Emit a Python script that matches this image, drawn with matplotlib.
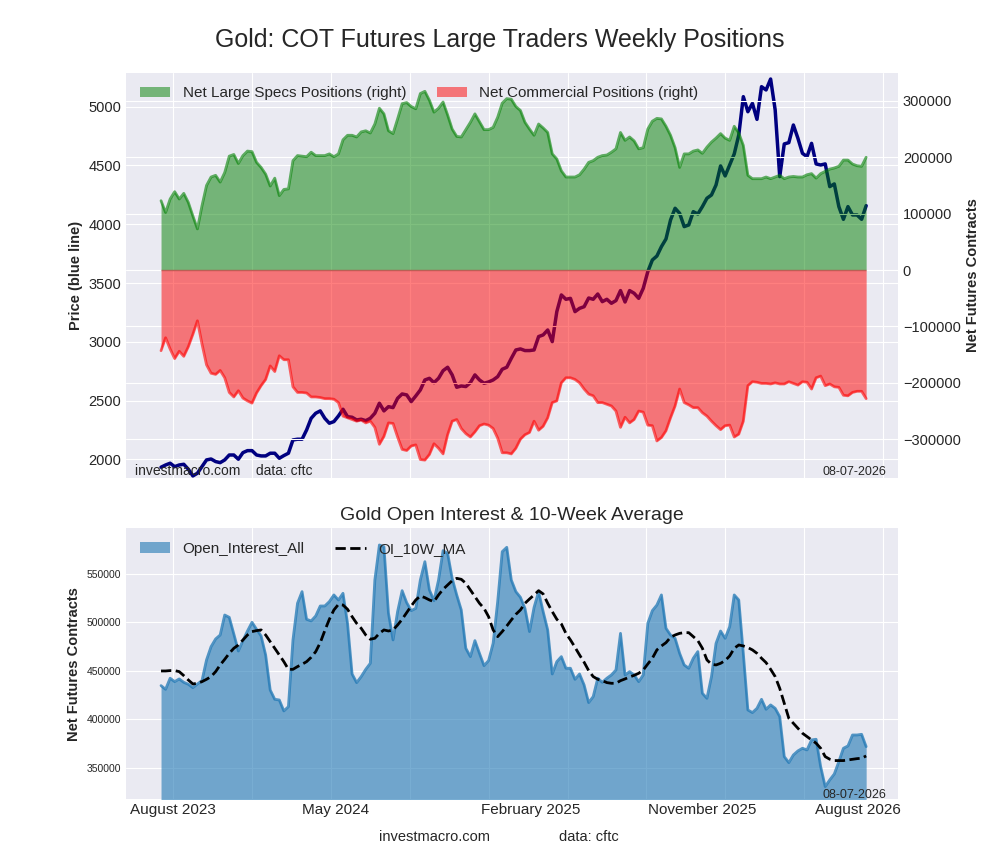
import numpy as np
import matplotlib as mpl
mpl.use("Agg")
import matplotlib.pyplot as plt

plt.style.use('seaborn-v0_8-darkgrid')
plt.rcParams['font.family'] = ['Liberation Sans', 'DejaVu Sans']

#weekly data, net positions in thousands of contracts
net_specs = [123,102,126,139,126,136,120,96,73,114,
    150,165,168,156,173,202,205,189,203,211,
    210,191,182,170,149,163,132,143,144,194,
    203,202,201,209,203,203,203,206,201,206,
    231,239,239,236,245,247,243,259,287,277,
    247,242,268,295,297,290,286,313,317,301,
    280,287,298,275,250,237,236,249,262,277,
    263,249,249,253,271,296,304,303,290,283,
    262,250,239,259,252,244,206,197,176,165,
    165,165,169,179,191,194,200,203,204,209,
    215,244,230,236,229,215,217,250,264,269,
    268,255,239,217,182,206,206,211,213,207,
    218,227,234,242,234,230,255,243,221,168,
    162,162,162,165,162,165,168,162,165,166,
    165,165,169,171,163,171,175,179,181,184,
    195,195,188,185,184,200]

net_comm = [-143,-120,-140,-157,-144,-153,-136,-114,-90,-131,
    -168,-183,-185,-178,-191,-217,-225,-214,-227,-232,
    -236,-218,-205,-194,-170,-180,-152,-159,-159,-207,
    -217,-217,-218,-225,-225,-226,-228,-228,-229,-235,
    -259,-262,-265,-268,-266,-271,-268,-279,-309,-295,
    -271,-272,-296,-318,-320,-312,-310,-336,-337,-327,
    -308,-316,-326,-292,-268,-265,-281,-290,-296,-287,
    -276,-273,-275,-281,-298,-324,-324,-326,-316,-300,
    -292,-288,-268,-284,-277,-262,-235,-232,-200,-191,
    -191,-194,-200,-211,-220,-223,-235,-235,-238,-241,
    -250,-279,-261,-271,-265,-250,-252,-275,-276,-303,
    -297,-285,-262,-241,-211,-235,-239,-244,-244,-253,
    -259,-268,-276,-283,-276,-275,-296,-291,-268,-205,
    -198,-199,-201,-201,-202,-200,-202,-202,-198,-201,
    -204,-198,-199,-211,-191,-188,-205,-202,-207,-208,
    -222,-223,-217,-215,-215,-228]

price = [1934,1953,1968,1939,1953,1959,1917,1860,1883,1939,
    1996,2004,1982,1973,1996,2038,2038,2002,2058,2075,
    2075,2038,2030,2030,2053,2053,2010,2033,2053,2166,
    2172,2172,2251,2350,2393,2413,2350,2308,2322,2370,
    2427,2364,2359,2336,2342,2330,2350,2393,2478,2413,
    2449,2441,2520,2557,2549,2492,2540,2591,2676,2690,
    2653,2690,2755,2784,2719,2614,2625,2620,2653,2719,
    2676,2648,2659,2676,2704,2767,2784,2860,2931,2940,
    2926,2926,2931,3045,3059,3101,3002,3257,3399,3362,
    3370,3257,3285,3299,3373,3362,3407,3342,3362,3328,
    3351,3436,3339,3436,3413,3370,3455,3597,3696,3730,
    3810,3875,4036,4136,4093,3980,3994,4107,4087,4150,
    4221,4249,4334,4496,4411,4504,4598,4759,5085,4957,
    5028,4892,5170,5142,5235,4972,4405,4683,4694,4844,
    4731,4603,4575,4688,4513,4504,4513,4320,4343,4150,
    4042,4150,4079,4079,4042,4158]

#open interest, thousands of contracts
open_interest = [434.9,431.1,442.5,439.0,441.8,438.3,436.3,432.8,436.6,440.0,
    461.4,475.1,483.0,487.1,507.7,505.3,488.2,470.6,481.3,491.2,
    500.2,493.0,486.1,466.5,430.4,420.8,420.1,408.8,413.2,482.0,
    519.8,531.8,503.3,501.6,506.7,517.0,517.0,521.5,528.4,523.2,
    530.1,499.1,446.9,438.0,444.2,451.7,457.9,543.8,579.9,578.2,
    509.5,482.0,511.2,532.8,520.5,512.2,514.6,543.8,562.7,533.5,
    522.5,543.8,574.1,571.3,545.5,528.4,512.9,473.4,464.8,481.3,
    468.2,455.5,460.7,478.5,521.5,573.0,577.5,543.8,531.8,526.0,
    514.6,490.6,515.6,531.8,511.2,492.3,446.9,459.6,464.8,452.8,
    452.8,441.4,446.9,435.6,417.4,423.6,442.5,438.3,442.5,445.9,
    451.0,488.8,445.9,449.3,445.9,439.0,445.9,499.1,512.2,518.0,
    528.4,494.0,487.1,483.7,468.2,456.2,452.8,463.1,470.0,427.0,
    421.8,444.2,478.5,491.2,483.7,495.7,528.4,523.2,468.2,409.8,
    407.1,411.5,420.8,410.5,415.0,411.5,403.0,361.7,355.5,363.4,
    367.6,370.3,368.6,378.9,379.6,351.4,330.8,337.7,343.8,356.6,
    370.3,372.7,384.0,384.0,384.7,372.0]

oi_ma10 = [450.0,450.0,450.4,450.4,449.3,445.2,440.7,436.6,437.3,439.0,
    441.4,444.2,449.3,456.2,462.0,468.2,473.4,476.8,482.0,487.1,
    490.6,491.6,492.3,487.1,480.3,473.4,466.5,459.6,451.7,451.7,
    454.5,456.9,459.6,464.1,469.9,479.2,491.6,503.3,512.9,518.7,
    518.0,513.6,506.0,499.1,494.0,487.1,482.7,483.7,488.8,492.3,
    491.2,492.3,497.4,503.3,510.1,517.0,523.2,527.3,525.6,523.2,
    521.5,528.4,534.2,538.7,543.1,545.5,544.5,540.4,533.5,526.6,
    519.8,514.6,506.0,492.3,485.4,490.6,496.4,502.6,508.4,512.9,
    519.8,524.2,528.4,532.8,529.4,519.8,511.2,503.3,498.5,488.8,
    482.0,474.4,466.5,459.0,450.4,444.2,441.4,440.0,438.0,437.3,
    437.3,440.0,441.8,443.8,445.5,447.6,451.0,457.2,463.1,471.7,
    475.8,479.2,484.7,487.1,488.8,489.5,489.5,485.4,481.3,473.4,
    461.4,456.9,456.2,457.9,460.7,465.5,473.4,476.8,475.8,474.1,
    471.7,468.2,463.1,458.6,451.7,444.2,432.1,416.7,401.2,396.1,
    390.9,385.8,382.3,378.9,375.5,370.3,361.7,359.0,357.6,357.6,
    357.6,358.3,359.0,359.6,360.0,362.4]

date_labels = ['August 2023', 'May 2024', 'February 2025', 'November 2025', 'August 2026']
date_label_weeks = [2.7, 38.4, 81.2, 119.0, 153.2]
grid_weeks = np.arange(2.6, 160, 17.35)
last_date = '08-07-2026'

weeks = np.arange(len(price))
specs = np.array(net_specs) * 1000
comm = np.array(net_comm) * 1000
oi = np.array(open_interest) * 1000
ma = np.array(oi_ma10) * 1000

fig = plt.figure(figsize=(10, 8.6), dpi=100)
ax1 = fig.add_axes([0.126, 0.444, 0.772, 0.4715])
ax3 = fig.add_axes([0.126, 0.0706, 0.772, 0.3151])

fig.suptitle('Gold: COT Futures Large Traders Weekly Positions', fontsize=18, y=0.967)

#top panel: price under the position fills
ax1.plot(weeks, price, color='navy', linewidth=2.5)
ax1.set_ylim(1841, 5289)
ax1.set_ylabel('Price (blue line)', fontsize=10.5, fontweight='bold')
ax1.tick_params(axis='y', labelsize=10.5)

ax2 = ax1.twinx()
ax2.fill_between(weeks, specs, 0, color='green', alpha=0.5, linewidth=0,
    label='Net Large Specs Positions (right)')
ax2.plot(weeks, specs, color='green', alpha=0.6, linewidth=2)
ax2.fill_between(weeks, comm, 0, color='red', alpha=0.5, linewidth=0,
    label='Net Commercial Positions (right)')
ax2.plot(weeks, comm, color='red', alpha=0.6, linewidth=2)
ax2.hlines(0, weeks[0], weeks[-1], color='#b03030', linewidth=1, alpha=0.6)
ax2.set_ylim(-369000, 350000)
ax2.set_ylabel('Net Futures Contracts', fontsize=10.5, fontweight='bold')
ax2.tick_params(axis='y', labelsize=10.5)
ax2.legend(loc='upper left', ncol=2, frameon=False, fontsize=11)

for ax in (ax1, ax2):
    ax.set_xticks(grid_weeks)
    ax.set_xticklabels([])
    ax.tick_params(axis='x', length=0)
    for s in ax.spines.values():
        s.set_visible(False)
ax1.set_xlim(-7.7, 162.0)

ax1.text(0.012, 0.0, 'investmacro.com    data: cftc', transform=ax1.transAxes,
    fontsize=10, va='bottom', ha='left')
ax1.text(0.985, 0.0, last_date, transform=ax1.transAxes,
    fontsize=9, va='bottom', ha='right')

#bottom panel: open interest
ax3.fill_between(weeks, oi, 0, color='tab:blue', alpha=0.6, linewidth=0,
    label='Open_Interest_All')
ax3.plot(weeks, oi, color='tab:blue', alpha=0.75, linewidth=2)
ax3.plot(weeks, ma, color='black', linestyle='--', linewidth=2, label='OI_10W_MA')
ax3.set_ylim(317700, 597100)
ax3.set_xlim(-7.7, 162.0)
ax3.set_title('Gold Open Interest & 10-Week Average', fontsize=14, pad=6)
ax3.set_ylabel('Net Futures Contracts', fontsize=10.5, fontweight='bold')
ax3.tick_params(axis='y', labelsize=7.5)
ax3.set_xticks(grid_weeks)
ax3.set_xticklabels([])
ax3.set_xticks(date_label_weeks, minor=True)
ax3.set_xticklabels(date_labels, minor=True, fontsize=11)
ax3.tick_params(axis='x', which='both', length=0, pad=3)
ax3.legend(loc='upper left', ncol=2, frameon=False, fontsize=11)
for s in ax3.spines.values():
    s.set_visible(False)
ax3.text(0.985, -0.008, last_date, transform=ax3.transAxes,
    fontsize=9, va='bottom', ha='right')

fig.text(0.435, 0.027, 'investmacro.com', fontsize=10.5, ha='center', va='center')
fig.text(0.589, 0.027, 'data: cftc', fontsize=10.5, ha='center', va='center')

fig.savefig('out.png', dpi=100)
